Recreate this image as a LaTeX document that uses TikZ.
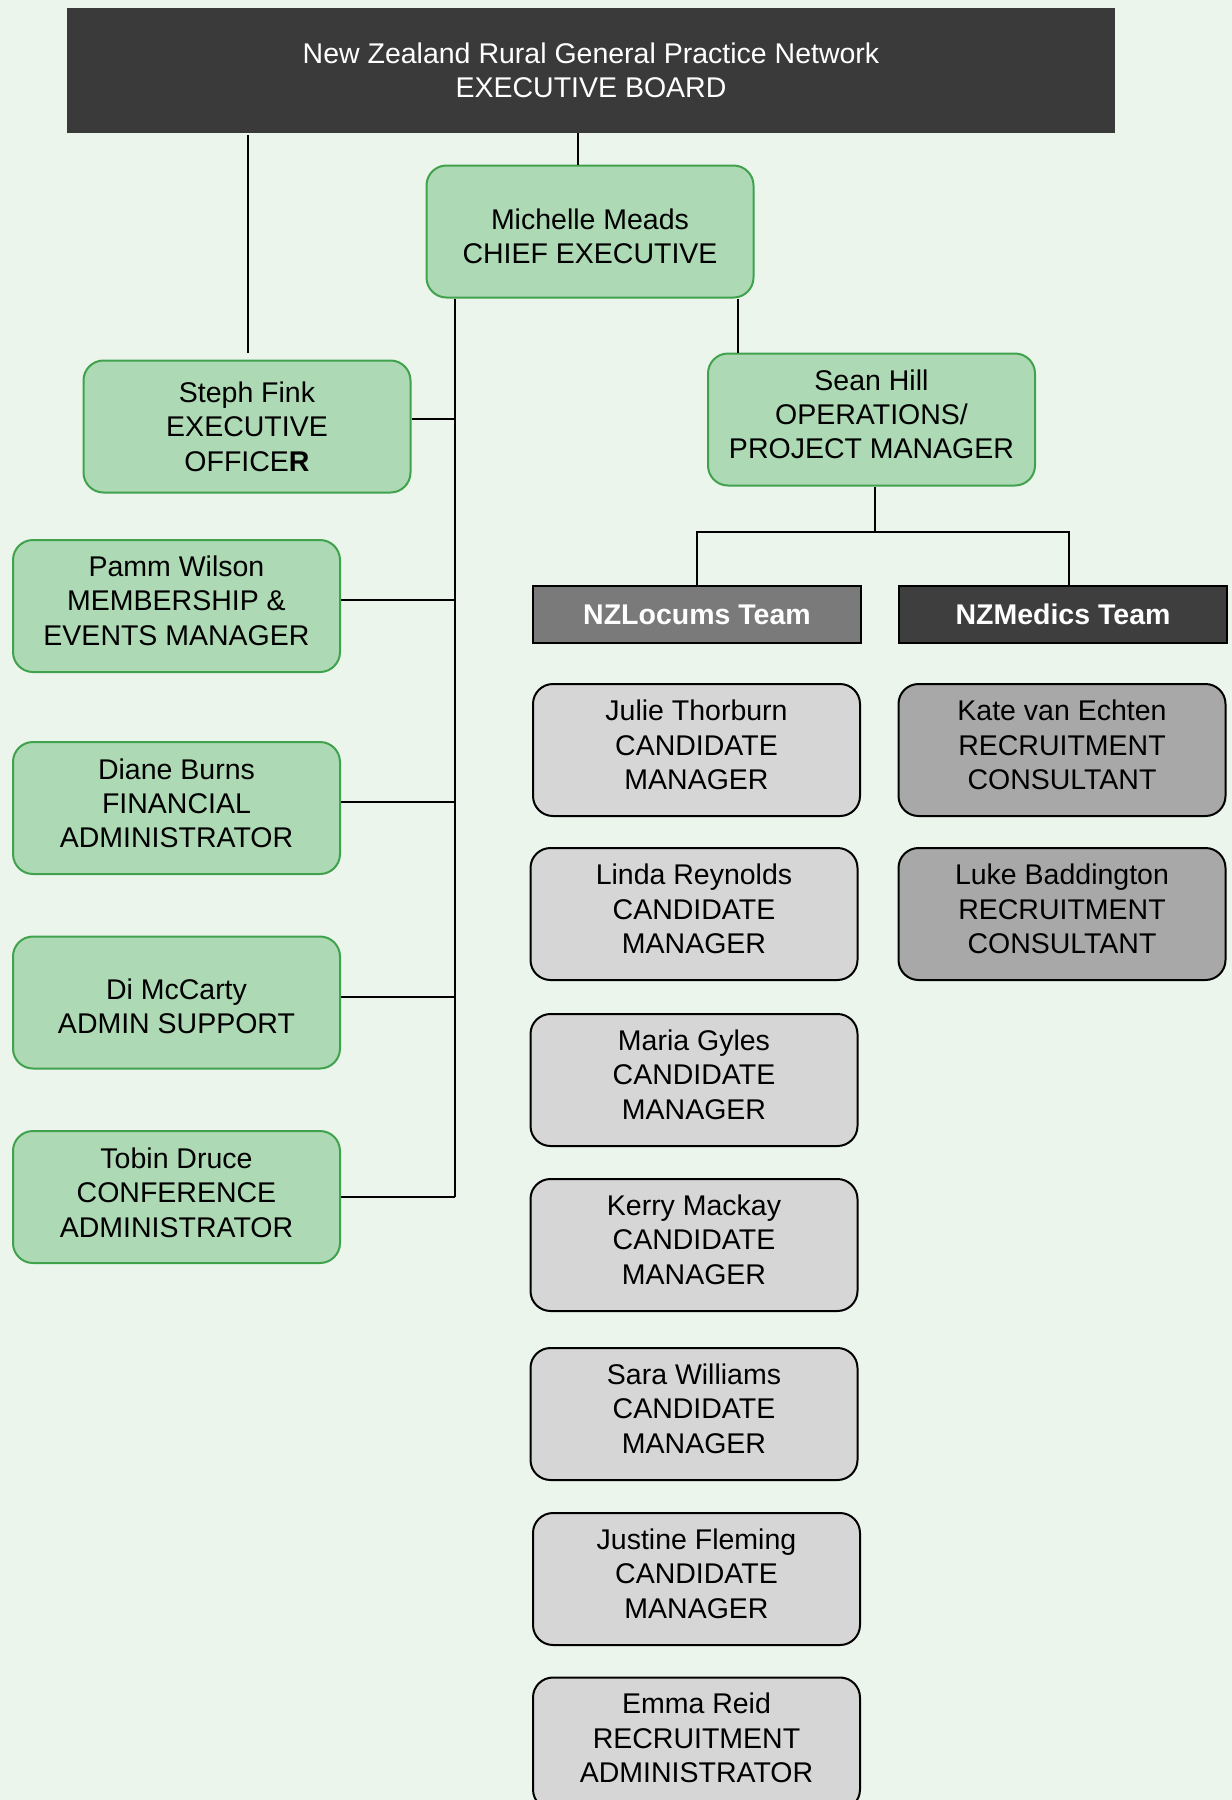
\documentclass[tikz,border=0pt]{standalone}
\usepackage{fontspec}
\setmainfont{Liberation Sans}
\definecolor{bgc}{HTML}{EBF5EC}
\definecolor{gfill}{HTML}{ADD9B4}
\definecolor{gdraw}{HTML}{40A24C}
\definecolor{boardc}{HTML}{3A3A3A}
\definecolor{lgray}{HTML}{D6D6D6}
\definecolor{mgray}{HTML}{A8A8A8}
\definecolor{hgray}{HTML}{7A7A7A}
\definecolor{dgray}{HTML}{3E3E3E}
% shift text block vertically without changing its size
\newcommand\txtshift[2]{\raisebox{#1}[\height][\depth]{\begin{tabular}{@{}c@{}}#2\end{tabular}}}
\begin{document}
\begin{tikzpicture}[x=0.5pt,y=-0.5pt,
  every node/.style={font=\fontsize{14.25}{17.2}\selectfont, align=center, inner sep=0pt},
  basebox/.style={rectangle, rounded corners=10pt, line width=1pt, minimum width=163.5pt, minimum height=66pt},
  greenbox/.style={basebox, fill=gfill, draw=gdraw},
  lightbox/.style={basebox, fill=lgray, draw=black},
  midbox/.style={basebox, fill=mgray, draw=black},
  teamhead/.style={rectangle, line width=1pt, draw=black, minimum width=164pt, minimum height=28.5pt, text=white, font=\fontsize{14.25}{17.2}\selectfont\bfseries},
  conn/.style={line width=1pt, draw=black}]
\clip (0,0) rectangle (1232,1800);
\fill[bgc] (0,0) rectangle (1232,1800);

% board
\node[rectangle, fill=boardc, text=white, minimum width=524pt, minimum height=62.5pt] (board) at (591,70.5)
  {New Zealand Rural General Practice Network\\EXECUTIVE BOARD};

% green boxes
\node[greenbox] (michelle) at (590,231.5) {\txtshift{-4pt}{Michelle Meads\\CHIEF EXECUTIVE}};
\node[greenbox] (steph) at (247,426.5) {Steph Fink\\EXECUTIVE\\OFFICE\textbf{R}};
\node[greenbox] (sean) at (871.5,419.5) {\txtshift{0.9pt}{Sean Hill\\OPERATIONS/\\PROJECT MANAGER}};
\node[greenbox] (pamm) at (176.5,606) {\txtshift{1.1pt}{Pamm Wilson\\MEMBERSHIP \&\\EVENTS MANAGER}};
\node[greenbox] (diane) at (176.5,808) {\txtshift{0.7pt}{Diane Burns\\FINANCIAL\\ADMINISTRATOR}};
\node[greenbox] (di) at (176.5,1002.5) {\txtshift{-3.7pt}{Di McCarty\\ADMIN SUPPORT}};
\node[greenbox] (tobin) at (176.5,1197) {\txtshift{0.5pt}{Tobin Druce\\CONFERENCE\\ADMINISTRATOR}};

% team headers
\node[teamhead, fill=hgray] (locums) at (697,614.5) {NZLocums Team};
\node[teamhead, fill=dgray] (medics) at (1063,614.5) {NZMedics Team};

% locums team
\node[lightbox] (julie) at (696.5,750) {\txtshift{0.9pt}{Julie Thorburn\\CANDIDATE\\MANAGER}};
\node[lightbox] (linda) at (694,914) {\txtshift{0.9pt}{Linda Reynolds\\CANDIDATE\\MANAGER}};
\node[lightbox] (maria) at (694,1080) {\txtshift{1.1pt}{Maria Gyles\\CANDIDATE\\MANAGER}};
\node[lightbox] (kerry) at (694,1245) {\txtshift{1.1pt}{Kerry Mackay\\CANDIDATE\\MANAGER}};
\node[lightbox] (sara) at (694,1414) {\txtshift{1.1pt}{Sara Williams\\CANDIDATE\\MANAGER}};
\node[lightbox] (justine) at (696.5,1579) {\txtshift{1.1pt}{Justine Fleming\\CANDIDATE\\MANAGER}};
\node[lightbox] (emma) at (696.5,1743.5) {\txtshift{1.1pt}{Emma Reid\\RECRUITMENT\\ADMINISTRATOR}};

% medics team
\node[midbox] (kate) at (1062,750) {\txtshift{0.9pt}{Kate van Echten\\RECRUITMENT\\CONSULTANT}};
\node[midbox] (luke) at (1062,914) {\txtshift{0.9pt}{Luke Baddington\\RECRUITMENT\\CONSULTANT}};

% connector coordinates
\coordinate (cmich) at (578,0);
\coordinate (csteph) at (248,0);
\coordinate (spine) at (455,0);
\coordinate (csean) at (738,0);
\coordinate (bar) at (875,532);
\coordinate (stephE) at ([yshift=4pt]steph.east);
\coordinate (pammE) at ([yshift=3pt]pamm.east);
\coordinate (dianeE) at ([yshift=3pt]diane.east);
\coordinate (diE) at ([yshift=2.75pt]di.east);
\coordinate (medicsN) at ([xshift=3pt]medics.north);

% connectors
\draw[conn] (cmich |- board.south) -- (cmich |- michelle.north);
\draw[conn, shorten <=1pt, shorten >=3.5pt] (csteph |- board.south) -- (csteph |- steph.north);
\draw[conn] (spine |- michelle.south) -- (spine |- tobin.east);
\draw[conn] (stephE) -- (spine |- stephE);
\draw[conn] (pammE) -- (spine |- pammE);
\draw[conn] (dianeE) -- (spine |- dianeE);
\draw[conn] (diE) -- (spine |- diE);
\draw[conn] (tobin.east) -- (spine |- tobin.east);
\draw[conn] (csean |- michelle.south) -- (csean |- sean.north);
\draw[conn] (bar |- sean.south) -- (bar);
\draw[conn] (locums.north) |- (bar) -| (medicsN);
\end{tikzpicture}
\end{document}
